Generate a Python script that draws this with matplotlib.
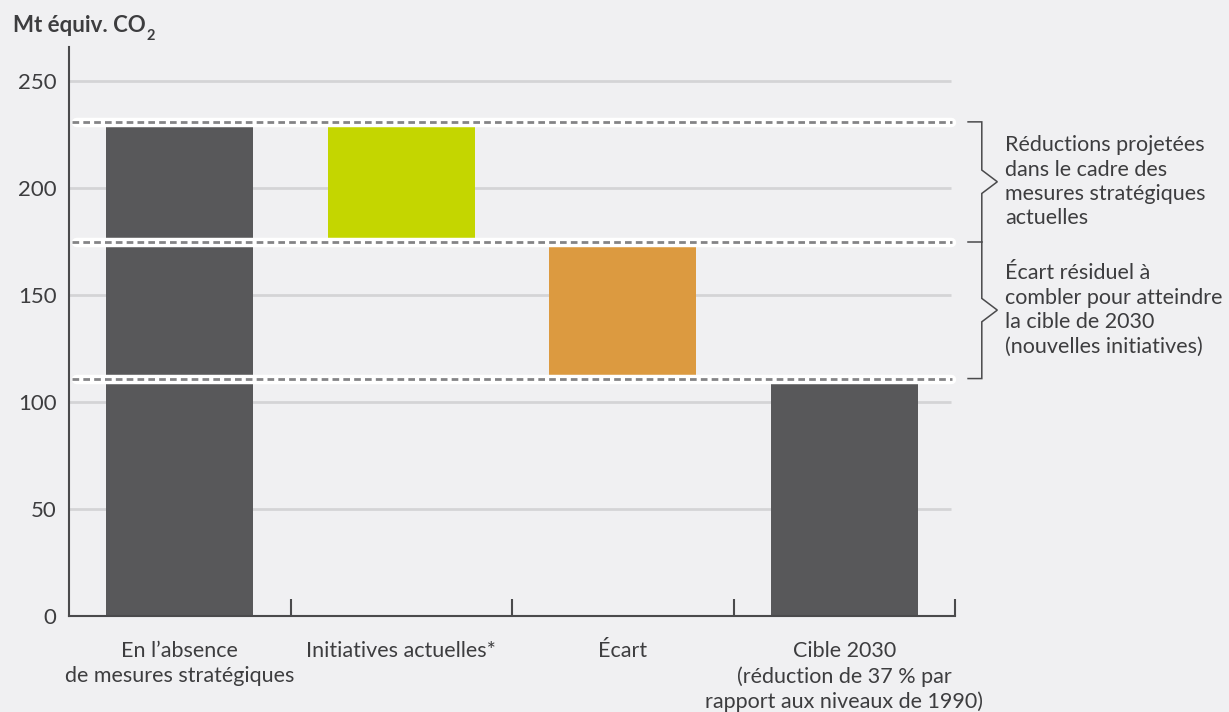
import matplotlib
matplotlib.use('Agg')
import matplotlib.pyplot as plt
import numpy as np

# ---- data ----
categories = ["En l’absence\nde mesures stratégiques",
              "Initiatives actuelles*",
              "Écart",
              "Cible 2030\n(réduction de 37 % par\nrapport aux niveaux de 1990)"]
bar_bottoms = [0, 175, 111, 0]
bar_tops = [231, 231, 175, 111]
reference_levels = [231, 175, 111]
yticks = [0, 50, 100, 150, 200, 250]
brace_texts = ["Réductions projetées\ndans le cadre des\nmesures stratégiques\nactuelles",
               "Écart résiduel à\ncombler pour atteindre\nla cible de 2030\n(nouvelles initiatives)"]
ylabel_main = "Mt équiv. CO"
ylabel_sub = "2"

# ---- style ----
BG = '#f0f0f2'
DARK = '#58585a'
GREEN = '#c4d600'
ORANGE = '#dc9a40'
TEXT = '#3d3d3f'
SPINE = '#4a4a4c'
bar_colors = [DARK, GREEN, ORANGE, DARK]

plt.rcParams['font.family'] = ['Lato', 'DejaVu Sans']
FS = 15.5

W, H = 1229, 712
fig = plt.figure(figsize=(W / 100, H / 100), dpi=100, facecolor=BG)
ax = fig.add_axes([69 / W, 1 - 616 / H, (955 - 69) / W, (616 - 47) / H])
ax.set_facecolor(BG)

x = np.arange(len(categories))
heights = np.array(bar_tops) - np.array(bar_bottoms)
ax.bar(x, heights, bottom=bar_bottoms, width=0.664, color=bar_colors, zorder=2, linewidth=0)

ax.set_xlim(-0.5, 3.5)
ax.set_ylim(0, 266)

# gridlines
for y in yticks[1:]:
    ax.plot([-0.5, 3.48], [y, y], color='#d4d4d6', lw=2, zorder=1, solid_capstyle='butt')

# reference dashed lines with white halo
for lv in reference_levels:
    ax.plot([-0.468, 3.48], [lv, lv], color='white', lw=6.8, solid_capstyle='round',
            zorder=3, clip_on=False)
    ax.plot([-0.486, 3.485], [lv, lv], color='#848486', lw=2.0, linestyle=(0, (2.4, 1.5)),
            dash_capstyle='butt', zorder=4, clip_on=False)

# spines
for s in ['top', 'right']:
    ax.spines[s].set_visible(False)
for s in ['left', 'bottom']:
    ax.spines[s].set_color(SPINE)
    ax.spines[s].set_linewidth(1.5)
    ax.spines[s].set_zorder(5)

# y ticks
ax.set_yticks(yticks)
ax.set_yticklabels([str(v) for v in yticks])
ax.tick_params(axis='y', length=0, pad=9, labelsize=FS + 0.5, labelcolor=TEXT)

# x ticks: separators as major, labels as minor
ax.set_xticks([0.5, 1.5, 2.5, 3.5])
ax.set_xticklabels([])
ax.tick_params(axis='x', which='major', direction='in', length=12, width=1.5, color=SPINE)
ax.set_xticks(x, minor=True)
ax.set_xticklabels(categories, minor=True)
ax.tick_params(axis='x', which='minor', length=0, pad=18, labelsize=FS, labelcolor=TEXT)
for lab in ax.get_xticklabels(minor=True):
    lab.set_linespacing(1.3)

# y label with manual subscript
t_main = fig.text(13 / W, 1 - 25 / H, ylabel_main, fontsize=16, fontweight='bold', color=TEXT,
                  ha='left', va='center')
fig.canvas.draw()
bb = t_main.get_window_extent()
fig.text((bb.x1 + 1) / W, (bb.y0 - 1) / H, ylabel_sub, fontsize=10.5, fontweight='bold',
         color=TEXT, ha='left', va='center')

# bracket
x0, xv, xt = 3.559, 3.621, 3.691
h = 5.47
c1 = (reference_levels[0] + reference_levels[1]) / 2
c2 = (reference_levels[1] + reference_levels[2]) / 2
bx = [x0, xv, xv, xt, xv, xv, xt, xv, xv, x0]
by = [reference_levels[0], reference_levels[0], c1 + h, c1, c1 - h, c2 + h, c2, c2 - h,
      reference_levels[2], reference_levels[2]]
ax.plot(bx, by, color=SPINE, lw=1.1, clip_on=False, solid_joinstyle='miter')
ax.plot([x0, xv], [reference_levels[1]] * 2, color=SPINE, lw=1.1, clip_on=False)

for c, t in zip([c1, c2], brace_texts):
    ax.text(3.726, c, t, fontsize=FS, color=TEXT, ha='left', va='center',
            linespacing=1.28, clip_on=False)

fig.savefig('out.png', dpi=100, facecolor=BG)
